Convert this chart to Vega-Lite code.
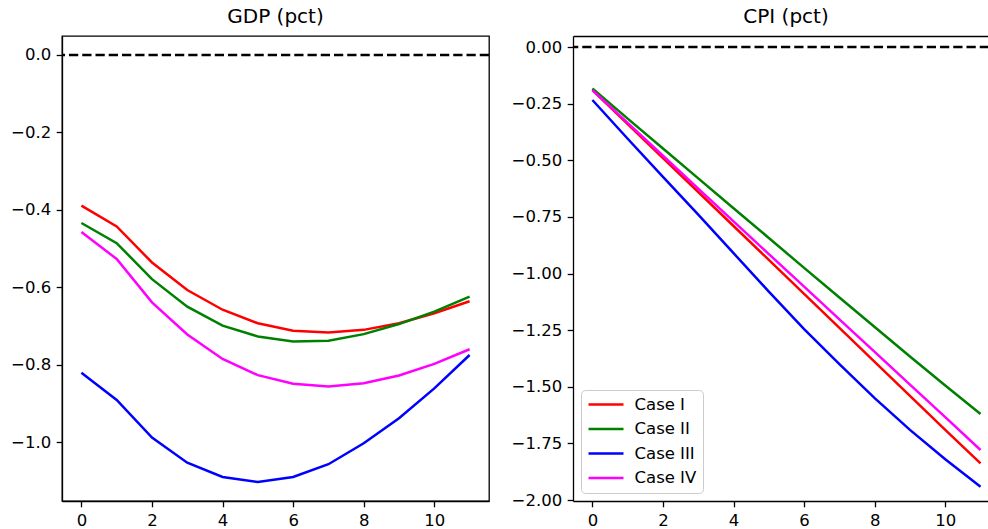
{
  "$schema": "https://vega.github.io/schema/vega-lite/v6.json",
  "background": "white",
  "padding": {"left": 9, "top": 6, "right": 0, "bottom": 0},
  "bounds": "flush",
  "spacing": 84,
  "config": {
    "font": "DejaVu Sans",
    "view": {"stroke": "black", "strokeWidth": 1.3},
    "axis": {"domainColor": "black", "domainWidth": 1.3, "tickColor": "black", "tickWidth": 1.3, "tickSize": 5.8, "labelFontSize": 16.5, "labelColor": "black", "labelPadding": 5.5, "grid": false, "title": null, "labelFont": "DejaVu Sans"},
    "title": {"fontSize": 20, "fontWeight": "normal", "color": "black", "offset": 9, "font": "DejaVu Sans"}
  },
  "datasets": {
    "gdp": [
      {"t":0,"case":"Case I","value":-0.389},{"t":1,"case":"Case I","value":-0.443},{"t":2,"case":"Case I","value":-0.536},{"t":3,"case":"Case I","value":-0.607},{"t":4,"case":"Case I","value":-0.658},{"t":5,"case":"Case I","value":-0.693},{"t":6,"case":"Case I","value":-0.712},{"t":7,"case":"Case I","value":-0.717},{"t":8,"case":"Case I","value":-0.710},{"t":9,"case":"Case I","value":-0.693},{"t":10,"case":"Case I","value":-0.667},{"t":11,"case":"Case I","value":-0.636},
      {"t":0,"case":"Case II","value":-0.434},{"t":1,"case":"Case II","value":-0.486},{"t":2,"case":"Case II","value":-0.579},{"t":3,"case":"Case II","value":-0.650},{"t":4,"case":"Case II","value":-0.699},{"t":5,"case":"Case II","value":-0.727},{"t":6,"case":"Case II","value":-0.740},{"t":7,"case":"Case II","value":-0.738},{"t":8,"case":"Case II","value":-0.721},{"t":9,"case":"Case II","value":-0.695},{"t":10,"case":"Case II","value":-0.663},{"t":11,"case":"Case II","value":-0.624},
      {"t":0,"case":"Case III","value":-0.821},{"t":1,"case":"Case III","value":-0.891},{"t":2,"case":"Case III","value":-0.988},{"t":3,"case":"Case III","value":-1.053},{"t":4,"case":"Case III","value":-1.090},{"t":5,"case":"Case III","value":-1.103},{"t":6,"case":"Case III","value":-1.090},{"t":7,"case":"Case III","value":-1.057},{"t":8,"case":"Case III","value":-1.003},{"t":9,"case":"Case III","value":-0.938},{"t":10,"case":"Case III","value":-0.861},{"t":11,"case":"Case III","value":-0.775},
      {"t":0,"case":"Case IV","value":-0.457},{"t":1,"case":"Case IV","value":-0.527},{"t":2,"case":"Case IV","value":-0.639},{"t":3,"case":"Case IV","value":-0.722},{"t":4,"case":"Case IV","value":-0.785},{"t":5,"case":"Case IV","value":-0.827},{"t":6,"case":"Case IV","value":-0.849},{"t":7,"case":"Case IV","value":-0.856},{"t":8,"case":"Case IV","value":-0.848},{"t":9,"case":"Case IV","value":-0.828},{"t":10,"case":"Case IV","value":-0.798},{"t":11,"case":"Case IV","value":-0.760}
    ],
    "cpi": [
      {"t":0,"case":"Case I","value":-0.19},{"t":1,"case":"Case I","value":-0.34},{"t":2,"case":"Case I","value":-0.49},{"t":3,"case":"Case I","value":-0.64},{"t":4,"case":"Case I","value":-0.79},{"t":5,"case":"Case I","value":-0.94},{"t":6,"case":"Case I","value":-1.09},{"t":7,"case":"Case I","value":-1.24},{"t":8,"case":"Case I","value":-1.39},{"t":9,"case":"Case I","value":-1.54},{"t":10,"case":"Case I","value":-1.69},{"t":11,"case":"Case I","value":-1.838},
      {"t":0,"case":"Case II","value":-0.183},{"t":1,"case":"Case II","value":-0.316},{"t":2,"case":"Case II","value":-0.448},{"t":3,"case":"Case II","value":-0.580},{"t":4,"case":"Case II","value":-0.712},{"t":5,"case":"Case II","value":-0.843},{"t":6,"case":"Case II","value":-0.975},{"t":7,"case":"Case II","value":-1.106},{"t":8,"case":"Case II","value":-1.236},{"t":9,"case":"Case II","value":-1.366},{"t":10,"case":"Case II","value":-1.494},{"t":11,"case":"Case II","value":-1.620},
      {"t":0,"case":"Case III","value":-0.234},{"t":1,"case":"Case III","value":-0.405},{"t":2,"case":"Case III","value":-0.573},{"t":3,"case":"Case III","value":-0.74},{"t":4,"case":"Case III","value":-0.91},{"t":5,"case":"Case III","value":-1.08},{"t":6,"case":"Case III","value":-1.245},{"t":7,"case":"Case III","value":-1.40},{"t":8,"case":"Case III","value":-1.55},{"t":9,"case":"Case III","value":-1.69},{"t":10,"case":"Case III","value":-1.82},{"t":11,"case":"Case III","value":-1.941},
      {"t":0,"case":"Case IV","value":-0.19},{"t":1,"case":"Case IV","value":-0.335},{"t":2,"case":"Case IV","value":-0.48},{"t":3,"case":"Case IV","value":-0.625},{"t":4,"case":"Case IV","value":-0.77},{"t":5,"case":"Case IV","value":-0.914},{"t":6,"case":"Case IV","value":-1.058},{"t":7,"case":"Case IV","value":-1.202},{"t":8,"case":"Case IV","value":-1.346},{"t":9,"case":"Case IV","value":-1.49},{"t":10,"case":"Case IV","value":-1.634},{"t":11,"case":"Case IV","value":-1.779}
    ]
  },
  "hconcat": [
    {
      "width": 427,
      "height": 465,
      "title": "GDP (pct)",
      "layer": [
        {
          "data": {"name": "gdp"},
          "mark": {"type": "line", "strokeWidth": 2.5},
          "encoding": {
            "x": {"field": "t", "type": "quantitative", "scale": {"domain": [-0.55, 11.55], "nice": false, "zero": false}, "axis": {"values": [0, 2, 4, 6, 8, 10], "format": "d"}},
            "y": {"field": "value", "type": "quantitative", "scale": {"domain": [-1.152, 0.049], "nice": false, "zero": false}, "axis": {"values": [-1.0, -0.8, -0.6, -0.4, -0.2, 0.0], "format": ".1f"}},
            "color": {"field": "case", "type": "nominal", "scale": {"domain": ["Case I", "Case II", "Case III", "Case IV"], "range": ["#ff0000", "#008000", "#0000ff", "#ff00ff"]}, "legend": null}
          }
        },
        {
          "data": {"values": [{}]},
          "mark": {"type": "rule", "strokeDash": [9.25, 4], "strokeWidth": 2.5, "color": "black"},
          "encoding": {"y": {"datum": 0}}
        }
      ]
    },
    {
      "width": 416,
      "height": 465,
      "title": {"text": "CPI (pct)", "dx": 5},
      "view": {"stroke": null},
      "layer": [
        {
          "data": {"name": "cpi"},
          "mark": {"type": "line", "strokeWidth": 2.5},
          "encoding": {
            "x": {"field": "t", "type": "quantitative", "scale": {"domain": [-0.55, 11.24], "nice": false, "zero": false}, "axis": {"values": [0, 2, 4, 6, 8, 10], "format": "d"}},
            "y": {"field": "value", "type": "quantitative", "scale": {"domain": [-2.004, 0.0486], "nice": false, "zero": false}, "axis": {"values": [-2.0, -1.75, -1.5, -1.25, -1.0, -0.75, -0.5, -0.25, 0.0], "format": ".2f"}},
            "color": {"field": "case", "type": "nominal", "scale": {"domain": ["Case I", "Case II", "Case III", "Case IV"], "range": ["#ff0000", "#008000", "#0000ff", "#ff00ff"]},
              "legend": {"title": null, "orient": "bottom-left", "offset": 8, "symbolType": "M-2.5,0H2.5", "symbolSize": 196, "symbolStrokeWidth": 2.5, "symbolOffset": 10.5, "labelFontSize": 16.5, "labelOffset": 20, "padding": 6, "fillColor": "white", "strokeColor": "#cccccc", "cornerRadius": 4, "rowPadding": 7.5, "labelFont": "DejaVu Sans", "labelColor": "black"}}
          }
        },
        {
          "data": {"values": [{}]},
          "mark": {"type": "rule", "strokeDash": [9.25, 4], "strokeWidth": 2.5, "color": "black"},
          "encoding": {"y": {"datum": 0}}
        },
        {
          "data": {"name": "cpi"},
          "mark": {"type": "point", "opacity": 0},
          "encoding": {
            "x": {"field": "t", "type": "quantitative", "axis": {"orient": "top", "labels": false, "ticks": false, "domain": true}}
          }
        }
      ],
      "resolve": {"axis": {"x": "independent"}}
    }
  ],
  "resolve": {"scale": {"color": "independent", "x": "independent", "y": "independent"}, "legend": {"color": "independent"}}
}
